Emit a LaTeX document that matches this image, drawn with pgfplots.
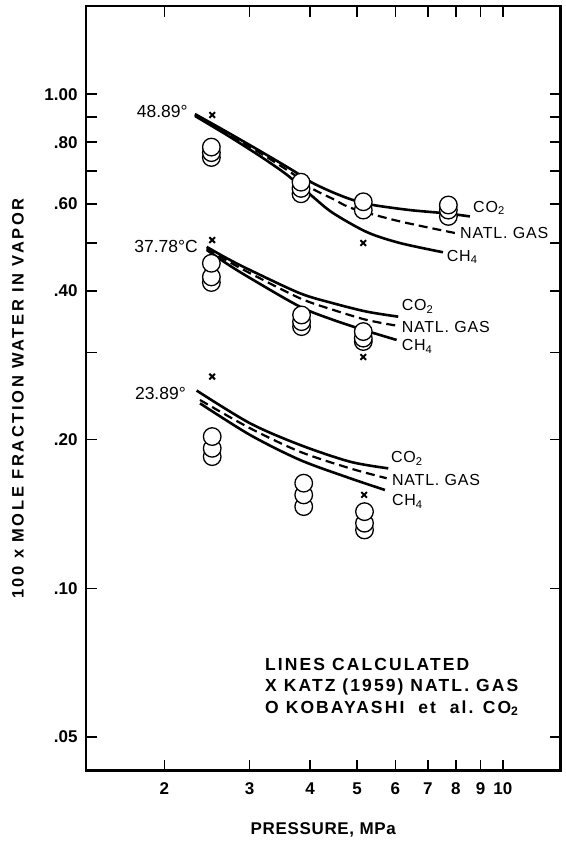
\documentclass[border=0pt]{standalone}
\usepackage{fontspec}
\setmainfont{Liberation Sans}
\newfontfamily\spaced[LetterSpace=12]{Liberation Sans}
\newfontfamily\yspaced[LetterSpace=16]{Liberation Sans}
\newfontfamily\xspaced[LetterSpace=4]{Liberation Sans}
\newfontfamily\cspaced[LetterSpace=5]{Liberation Sans}
\usepackage{pgfplots}
\pgfplotsset{compat=1.18}
\begin{document}
\begin{tikzpicture}
\useasboundingbox (-86pt,-72.5pt) rectangle (479pt,770.5pt);
\begin{axis}[
  at={(0pt,0pt)}, anchor=south west,
  scale only axis, width=474.5pt, height=764.5pt,
  xmode=log, ymode=log,
  xmin=1.377, xmax=13.16, ymin=0.0428, ymax=1.509,
  xtick={2,3,4,5,6,7,8,9,10}, xticklabels={2,3,4,5,6,7,8,9,10},
  ytick={0.05,0.1,0.2,0.3,0.4,0.5,0.6,0.7,0.8,0.9,1.0},
  yticklabels={.05,.10,.20,,.40,,.60,,.80,,1.00},
  minor xtick={}, minor ytick={},
  major tick length=11pt,
  every tick/.style={black, line width=1.6pt},
  axis line style={line width=2.6pt, line cap=rect},
  ticklabel style={font=\bfseries\fontsize{17}{20}\selectfont},
  xticklabel style={yshift=-9pt},
  yticklabel style={xshift=-5pt},
  xlabel={PRESSURE, MPa},
  xlabel style={at={(axis description cs:0.5,-0.0778)}, anchor=center, font=\xspaced\bfseries\fontsize{17}{20}\selectfont},
  ylabel={100 x MOLE FRACTION WATER IN VAPOR},
  ylabel style={at={(axis description cs:-0.1433,0.4866)}, anchor=center, font=\yspaced\bfseries\fontsize{16.5}{20}\selectfont},
  clip=false,
]
% ---- 48.89 C ----
\addplot[line width=2.6pt, smooth] coordinates {(2.312,0.912) (2.692,0.839) (3.150,0.768) (3.583,0.713) (3.810,0.687) (4.054,0.661) (4.459,0.633) (4.903,0.611) (5.394,0.597) (6.431,0.583) (7.667,0.574) (8.554,0.566)};
\addplot[line width=2.2pt, dash pattern=on 9pt off 5pt, smooth] coordinates {(2.312,0.908) (2.692,0.833) (3.150,0.761) (3.583,0.703) (3.810,0.674) (4.054,0.643) (4.459,0.614) (4.903,0.587) (6.132,0.553) (7.964,0.524)};
\addplot[line width=2.6pt, smooth] coordinates {(2.312,0.904) (2.692,0.827) (3.150,0.750) (3.583,0.687) (4.054,0.620) (4.459,0.575) (5.242,0.526) (6.132,0.500) (7.522,0.479)};
% ---- 37.78 C ----
\addplot[line width=2.6pt, smooth] coordinates {(2.445,0.4911) (2.692,0.4656) (3.004,0.4409) (3.810,0.3957) (4.466,0.3776) (5.234,0.3632) (6.082,0.3548)};
\addplot[line width=2.2pt, dash pattern=on 9pt off 5pt, smooth] coordinates {(2.445,0.4876) (2.692,0.4606) (3.004,0.4345) (3.810,0.3866) (4.466,0.3661) (5.234,0.3494) (6.082,0.3398)};
\addplot[line width=2.6pt, smooth] coordinates {(2.445,0.4842) (2.692,0.4540) (3.004,0.4248) (3.810,0.3717) (4.466,0.3494) (5.234,0.3320) (6.036,0.3183)};
% ---- 23.89 C ----
\addplot[line width=2.6pt, smooth] coordinates {(2.331,0.2514) (3.004,0.2159) (3.810,0.1952) (4.834,0.1805) (5.800,0.1750)};
\addplot[line width=2.2pt, dash pattern=on 9pt off 5pt, smooth] coordinates {(2.368,0.2406) (3.004,0.2110) (3.810,0.1891) (4.834,0.1750) (5.756,0.1671)};
\addplot[line width=2.6pt, smooth] coordinates {(2.368,0.2369) (3.004,0.2045) (3.810,0.1820) (4.834,0.1671) (5.710,0.1582)};
% ---- Kobayashi et al. CO2 (circles) ----
\addplot[only marks, mark=*, mark size=8.8pt, mark options={fill=white, draw=black, line width=1.3pt}] coordinates {
 (2.50,0.745) (2.50,0.762) (2.50,0.782)
 (3.83,0.629) (3.83,0.645) (3.83,0.664)
 (5.15,0.583) (5.15,0.606)
 (7.72,0.566) (7.72,0.583) (7.72,0.597)
 (2.50,0.416) (2.50,0.427) (2.50,0.455)
 (3.84,0.3387) (3.84,0.3467) (3.84,0.3576)
 (5.15,0.316) (5.15,0.321) (5.15,0.331)
 (2.51,0.1848) (2.51,0.1921) (2.51,0.2029)
 (3.88,0.1464) (3.88,0.1546) (3.88,0.1633)
 (5.18,0.1313) (5.18,0.1355) (5.18,0.1430)};
% ---- Katz (1959) natural gas (x) ----
\addplot[only marks, mark=x, mark size=4pt, mark options={line width=2pt}] coordinates {
 (2.51,0.908) (5.15,0.500)
 (2.51,0.507) (5.15,0.294)
 (2.51,0.2683) (5.17,0.1546)};
% ---- labels ----
\begin{scope}[every node/.style={inner sep=0pt}]
\node[anchor=east, font=\fontsize{17.5}{20}\selectfont] at (axis cs:2.236,0.921) {48.89°};
\node[anchor=east, font=\fontsize{17.5}{20}\selectfont] at (axis cs:2.346,0.4915) {37.78°C};
\node[anchor=east, font=\fontsize{17.5}{20}\selectfont] at (axis cs:2.216,0.2483) {23.89°};
\node[anchor=west, font=\cspaced\fontsize{16}{20}\selectfont] at (axis cs:8.68,0.589) {CO\textsubscript{2}};
\node[anchor=west, font=\cspaced\fontsize{16}{20}\selectfont] at (axis cs:8.16,0.523) {NATL. GAS};
\node[anchor=west, font=\cspaced\fontsize{16}{20}\selectfont] at (axis cs:7.66,0.469) {CH\textsubscript{4}};
\node[anchor=west, font=\cspaced\fontsize{16}{20}\selectfont] at (axis cs:6.18,0.3717) {CO\textsubscript{2}};
\node[anchor=west, font=\cspaced\fontsize{16}{20}\selectfont] at (axis cs:6.18,0.3387) {NATL. GAS};
\node[anchor=west, font=\cspaced\fontsize{16}{20}\selectfont] at (axis cs:6.18,0.3085) {CH\textsubscript{4}};
\node[anchor=west, font=\cspaced\fontsize{16}{20}\selectfont] at (axis cs:5.875,0.1834) {CO\textsubscript{2}};
\node[anchor=west, font=\cspaced\fontsize{16}{20}\selectfont] at (axis cs:5.90,0.1658) {NATL. GAS};
\node[anchor=west, font=\cspaced\fontsize{16}{20}\selectfont] at (axis cs:5.90,0.1498) {CH\textsubscript{4}};
\node[anchor=west, font=\spaced\bfseries\fontsize{17.5}{20}\selectfont] at (axis cs:3.227,0.07002) {LINES CALCULATED};
\node[anchor=west, font=\spaced\bfseries\fontsize{17.5}{20}\selectfont] at (axis cs:3.227,0.06312) {X KATZ (1959) NATL. GAS};
\node[anchor=west, font=\spaced\bfseries\fontsize{17.5}{20}\selectfont] at (axis cs:3.227,0.05723) {O KOBAYASHI\ \ et\ \ al. CO\textsubscript{2}};
\end{scope}
\end{axis}
\end{tikzpicture}
\end{document}
